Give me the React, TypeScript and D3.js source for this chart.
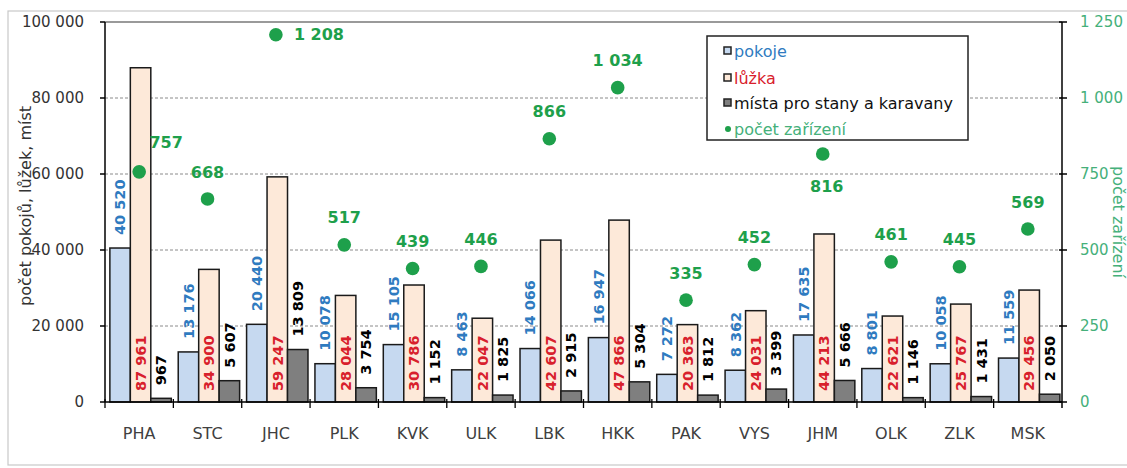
import React from "react";
import * as d3 from "d3";

const categories = ["PHA", "STC", "JHC", "PLK", "KVK", "ULK", "LBK", "HKK", "PAK", "VYS", "JHM", "OLK", "ZLK", "MSK"];
const pokoje = [40520, 13176, 20440, 10078, 15105, 8463, 14066, 16947, 7272, 8362, 17635, 8801, 10058, 11559];
const luzka = [87961, 34900, 59247, 28044, 30786, 22047, 42607, 47866, 20363, 24031, 44213, 22621, 25767, 29456];
const mista = [967, 5607, 13809, 3754, 1152, 1825, 2915, 5304, 1812, 3399, 5666, 1146, 1431, 2050];
const zarizeni = [757, 668, 1208, 517, 439, 446, 866, 1034, 335, 452, 816, 461, 445, 569];
const leftTicks = [0, 20000, 40000, 60000, 80000, 100000];
const rightTicks = [0, 250, 500, 750, 1000, 1250];
const seriesNames = ["pokoje", "lůžka", "místa pro stany a karavany"];
const pointName = "počet zařízení";

// label placement for the point series (style, not data)
const pointLabelPlacement: Record<string, string> = { PHA: "upright", JHC: "right", JHM: "below" };

const W = 1127, H = 468;
const M = { left: 105, right: 1062, top: 22, bottom: 402 };
const FONT = "DejaVu Sans, Verdana, sans-serif";

const cz = d3.formatLocale({ decimal: ",", thousands: "\u00a0", grouping: [3], currency: ["", " Kč"] });
const fmt = cz.format(",d");

const barFill = ["#c6d9f0", "#fde9d9", "#7f7f7f"];
const labelColor = ["#2f7bc0", "#d8202c", "#000000"];
const green = "#1ea04b";
const axisGreen = "#45b07a";

export default function App() {
  const x0 = d3.scaleBand<string>().domain(categories).range([M.left, M.right]).padding(0);
  const x1 = d3.scaleBand<number>().domain([0, 1, 2]).range([0, x0.bandwidth()]).paddingInner(0).paddingOuter(0.17).align(0.7);
  const yL = d3.scaleLinear().domain([0, 100000]).range([M.bottom, M.top]);
  const yR = d3.scaleLinear().domain([0, 1250]).range([M.bottom, M.top]);
  const series = [pokoje, luzka, mista];
  const bw = x1.bandwidth();
  const legendY = [51, 78, 103, 129];

  return (
    <svg width={W} height={H} style={{ position: "absolute", left: 0, top: 0, background: "#fff" }} fontFamily={FONT}>
      <rect x={0} y={0} width={W} height={H} fill="#fff" />
      <rect x={8} y={11} width={1130} height={454} fill="none" stroke="#c8c8c8" strokeWidth={1.2} />
      {/* gridlines */}
      {leftTicks.slice(1, -1).map((t) => (
        <line key={t} x1={M.left} x2={M.right} y1={yL(t)} y2={yL(t)} stroke="#8a8a8a" strokeWidth={1} strokeDasharray="3,2" />
      ))}
      <line x1={M.left} x2={M.right} y1={M.top} y2={M.top} stroke="#9a9a9a" strokeWidth={2} />
      {/* bars */}
      {series.map((vals, si) =>
        vals.map((v, i) => {
          const x = (x0(categories[i]) as number) + (x1(si) as number);
          return (
            <rect key={`${si}-${i}`} x={x} y={yL(v)} width={bw} height={M.bottom - yL(v)} fill={barFill[si]} stroke="#1a1a1a" strokeWidth={1.5} />
          );
        })
      )}
      {/* axes */}
      <line x1={M.left} x2={M.left} y1={M.top} y2={M.bottom} stroke="#000" strokeWidth={1.5} />
      <line x1={M.right} x2={M.right} y1={M.top} y2={M.bottom + 6} stroke="#000" strokeWidth={1.5} />
      <line x1={M.left} x2={M.right} y1={M.bottom} y2={M.bottom} stroke="#000" strokeWidth={1.5} />
      {leftTicks.map((t) => (
        <g key={t}>
          <line x1={M.left - 5} x2={M.left} y1={yL(t)} y2={yL(t)} stroke="#000" strokeWidth={1.5} />
          <text x={84} y={yL(t)} dy="0.35em" textAnchor="end" fontSize={15} fill="#333">{fmt(t)}</text>
        </g>
      ))}
      {rightTicks.map((t) => (
        <g key={t}>
          <line x1={M.right - 3} x2={M.right + 5} y1={yR(t)} y2={yR(t)} stroke="#000" strokeWidth={1.5} />
          <text x={1080} y={yR(t)} dy="0.35em" textAnchor="start" fontSize={15} fill={axisGreen}>{fmt(t)}</text>
        </g>
      ))}
      {categories.map((c) => (
        <g key={c}>
          <line x1={x0(c) as number} x2={x0(c) as number} y1={M.bottom - 3} y2={M.bottom + 6} stroke="#000" strokeWidth={1.3} />
          <text x={(x0(c) as number) + x0.bandwidth() / 2} y={433} dy="0.35em" textAnchor="middle" fontSize={16} fill="#404040">{c}</text>
        </g>
      ))}
      {/* bar labels */}
      {series.map((vals, si) =>
        vals.map((v, i) => {
          const cx = (x0(categories[i]) as number) + (x1(si) as number) + bw / 2;
          const y = si === 1 ? M.bottom - 11 : yL(v) - 13;
          return (
            <text key={`l${si}-${i}`} transform={`translate(${cx},${y}) rotate(-90)`} textAnchor="start" dy="0.36em" fontSize={14.5} fontWeight="bold" fill={labelColor[si]}>
              {fmt(v)}
            </text>
          );
        })
      )}
      {/* points */}
      {zarizeni.map((v, i) => {
        const c = categories[i];
        const cx = (x0(c) as number) + x0.bandwidth() / 2;
        const cy = yR(v);
        const p = pointLabelPlacement[c] || "above";
        let lx = cx, ly = cy - 27, anchor = "middle";
        if (p === "right") { lx = cx + 18; ly = cy; anchor = "start"; }
        if (p === "below") { lx = cx + 4; ly = cy + 32; }
        if (p === "upright") { lx = cx + 27; ly = cy - 29; }
        return (
          <g key={`p${i}`}>
            <circle cx={cx} cy={cy} r={6.8} fill={green} />
            <text x={lx} y={ly} dy="0.35em" textAnchor={anchor} fontSize={16} fontWeight="bold" fill={green}>{fmt(v)}</text>
          </g>
        );
      })}
      {/* axis titles */}
      <text transform={`translate(25,206) rotate(-90)`} textAnchor="middle" dy="0.35em" fontSize={16} fill="#333">
        počet pokojů, lůžek, míst
      </text>
      <text transform={`translate(1119,${(M.top + M.bottom) / 2 + 10}) rotate(90)`} textAnchor="middle" dy="0.35em" fontSize={16} fill={axisGreen}>
        {pointName}
      </text>
      {/* legend */}
      <g>
        <rect x={707} y={36} width={261} height={104} fill="#fff" stroke="#222" strokeWidth={1.5} />
        {seriesNames.map((n, si) => (
          <g key={n}>
            <rect x={724} y={legendY[si] - 4} width={7} height={7} fill={barFill[si]} stroke="#222" strokeWidth={1.5} />
            <text x={734} y={legendY[si]} dy="0.35em" fontSize={16} fill={si === 2 ? "#111" : labelColor[si]}>{n}</text>
          </g>
        ))}
        <circle cx={728} cy={legendY[3]} r={3} fill={green} />
        <text x={734} y={legendY[3]} dy="0.35em" fontSize={16} fill={axisGreen}>{pointName}</text>
      </g>
    </svg>
  );
}
